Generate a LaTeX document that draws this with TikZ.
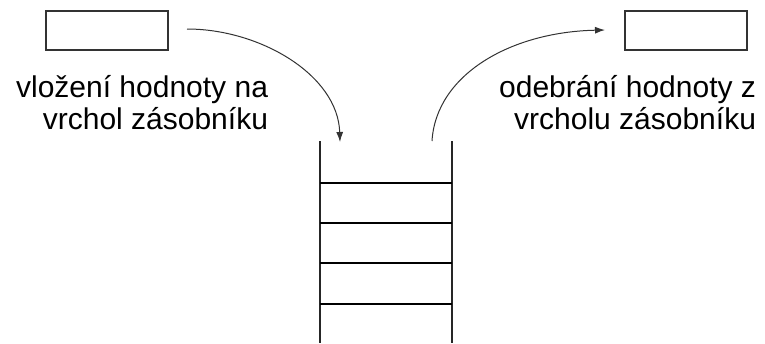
\documentclass[tikz,border=0pt]{standalone}
\usepackage{fontspec}
\setmainfont{Liberation Sans}
\usetikzlibrary{arrows.meta,calc}

\begin{document}
\begin{tikzpicture}[x=1pt, y=-1pt, outer sep=0pt, >={Latex[length=10pt,width=7pt]},
  valbox/.style={draw=black!80, line width=2pt, minimum width=122pt, minimum height=39pt, inner sep=0pt},
  lbl/.style={align=right, anchor=base east, inner sep=0pt, font=\fontsize{30}{32}\selectfont},
  rung/.style={line width=1.6pt},
  wall/.style={draw=black!85, line width=2pt},
  move/.style={->, line width=1pt, draw=black!80}]

\useasboundingbox (0,0) rectangle (765,343);

\node[valbox] at (107, 30) (inval) {};
\node[valbox] at (686, 30) (outval) {};

\node[lbl] at (268, 129) (pushtxt) {vložení hodnoty na\\vrchol zásobníku};
\node[lbl] at (756, 129) (poptxt) {odebrání hodnoty z\\vrcholu zásobníku};

% zasobnik
\coordinate (topL) at (320, 141);
\coordinate (topR) at (452, 141);
\coordinate (botL) at (320, 343);
\coordinate (botR) at (452, 343);
\draw[wall] (topL) -- (botL);
\draw[wall] (topR) -- (botR);
\foreach \y in {183, 223, 263, 304}
  \draw[rung] (320, \y) -- (452, \y);

% push / pop
\draw[move] ($(inval.east)+(19,-1)$) .. controls ($(inval.east)+(92,-1)$) and ($(topL)+(18,-66)$) .. ($(topL)+(20,1)$);
\draw[move] ($(topR)+(-20,0)$) .. controls ($(topR)+(-16,-66)$) and ($(outval.west)+(-115,2)$) .. ($(outval.west)+(-20,0)$);

\end{tikzpicture}
\end{document}
